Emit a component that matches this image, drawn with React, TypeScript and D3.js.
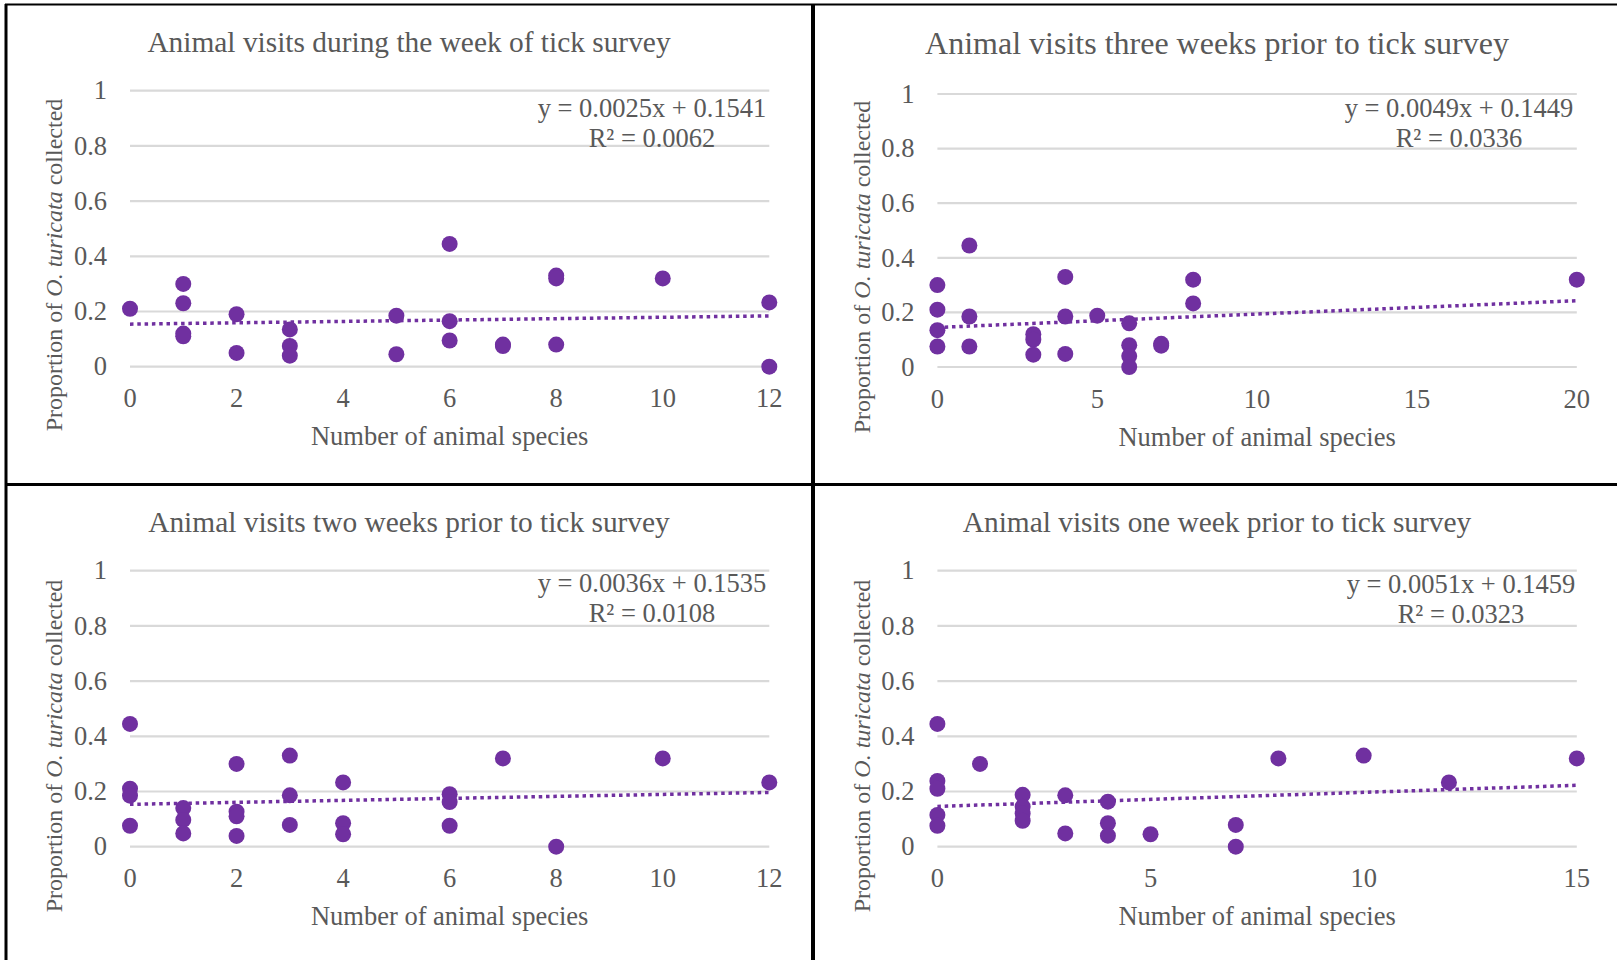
import React from "react";
import * as d3 from "d3";

// values
const weekOfX = [0, 1, 1, 1, 1, 2, 2, 3, 3, 3, 5, 5, 6, 6, 6, 7, 7, 8, 8, 8, 10, 12, 12];
const weekOfY = [0.21, 0.30, 0.23, 0.12, 0.11, 0.19, 0.05, 0.135, 0.075, 0.04, 0.185, 0.045, 0.445, 0.165, 0.095, 0.08, 0.075, 0.33, 0.32, 0.08, 0.32, 0.233, 0];

const threeWeeksX = [0, 0, 0, 0, 1, 1, 1, 3, 3, 3, 4, 4, 4, 5, 6, 6, 6, 6, 7, 7, 8, 8, 20];
const threeWeeksY = [0.30, 0.21, 0.135, 0.075, 0.445, 0.185, 0.075, 0.12, 0.10, 0.045, 0.33, 0.185, 0.048, 0.188, 0.16, 0.08, 0.04, 0, 0.085, 0.078, 0.32, 0.233, 0.32];

const twoWeeksX = [0, 0, 0, 0, 1, 1, 1, 2, 2, 2, 2, 3, 3, 3, 4, 4, 4, 6, 6, 6, 7, 8, 10, 12];
const twoWeeksY = [0.445, 0.21, 0.185, 0.076, 0.14, 0.097, 0.048, 0.30, 0.127, 0.11, 0.039, 0.33, 0.186, 0.079, 0.233, 0.085, 0.045, 0.19, 0.162, 0.076, 0.32, 0, 0.32, 0.233];

const oneWeekX = [0, 0, 0, 0, 0, 1, 2, 2, 2, 2, 3, 3, 4, 4, 4, 5, 7, 7, 8, 10, 12, 15];
const oneWeekY = [0.445, 0.238, 0.21, 0.115, 0.076, 0.30, 0.188, 0.145, 0.12, 0.094, 0.186, 0.048, 0.163, 0.085, 0.04, 0.045, 0.079, 0, 0.32, 0.33, 0.233, 0.32];

const titles = [
  "Animal visits during the week of tick survey",
  "Animal visits three weeks prior to tick survey",
  "Animal visits two weeks prior to tick survey",
  "Animal visits one week prior to tick survey",
];
const slopes = [0.0025, 0.0049, 0.0036, 0.0051];
const intercepts = [0.1541, 0.1449, 0.1535, 0.1459];
const rSquared = ["0.0062", "0.0336", "0.0108", "0.0323"];
const xMaxes = [12, 20, 12, 15];
const xTickSets = [
  [0, 2, 4, 6, 8, 10, 12],
  [0, 5, 10, 15, 20],
  [0, 2, 4, 6, 8, 10, 12],
  [0, 5, 10, 15],
];
const yTicks = [0, 0.2, 0.4, 0.6, 0.8, 1];

const PURPLE = "#7030A0";
const GRID = "#D9D9D9";
const TEXT = "#595959";
const FONT = "'Liberation Serif', 'Times New Roman', serif";

// panel layout, pixel frames
const layouts = [
  { x0: 130, x1: 769.3, yTop: 90.7, yBot: 366.7, titleX: 409, titleY: 52, titleSize: 29.4, yTitleX: 54, yTitleY: 265, eqX: 652, eqY: 117 },
  { x0: 937.4, x1: 1576.8, yTop: 94, yBot: 367, titleX: 1217, titleY: 54, titleSize: 32, yTitleX: 862, yTitleY: 267, eqX: 1459, eqY: 117 },
  { x0: 130, x1: 769.3, yTop: 570.7, yBot: 846.7, titleX: 409, titleY: 532, titleSize: 29.4, yTitleX: 54, yTitleY: 746, eqX: 652, eqY: 592 },
  { x0: 937.4, x1: 1576.8, yTop: 570.7, yBot: 846.7, titleX: 1217, titleY: 532, titleSize: 29.4, yTitleX: 862, yTitleY: 746, eqX: 1461, eqY: 593 },
];

const seriesX = [weekOfX, threeWeeksX, twoWeeksX, oneWeekX];
const seriesY = [weekOfY, threeWeeksY, twoWeeksY, oneWeekY];

function Panel({ i }: { i: number }) {
  const L = layouts[i];
  const x = d3.scaleLinear().domain([0, xMaxes[i]]).range([L.x0, L.x1]);
  const y = d3.scaleLinear().domain([0, 1]).range([L.yBot, L.yTop]);
  const fmt = d3.format("~g");
  const trend = d3
    .line<number>()
    .x((d) => x(d))
    .y((d) => y(slopes[i] * d + intercepts[i]));
  const xs = seriesX[i];
  const ys = seriesY[i];

  return (
    <g fontFamily={FONT} fill={TEXT}>
      <text x={L.titleX} y={L.titleY} textAnchor="middle" fontSize={L.titleSize}>
        {titles[i]}
      </text>
      {yTicks.map((t) => (
        <g key={t}>
          <line x1={L.x0} x2={L.x1} y1={y(t)} y2={y(t)} stroke={GRID} strokeWidth={2.2} />
          <text x={L.x0 - 23} y={y(t)} dy="0.33em" textAnchor="end" fontSize={26.5}>
            {fmt(t)}
          </text>
        </g>
      ))}
      {xTickSets[i].map((t) => (
        <text key={t} x={x(t)} y={L.yBot + 40.5} textAnchor="middle" fontSize={26.5}>
          {t}
        </text>
      ))}
      <text x={(L.x0 + L.x1) / 2} y={L.yBot + 78.5} textAnchor="middle" fontSize={26.5}>
        Number of animal species
      </text>
      <text
        transform={`translate(${L.yTitleX + 8},${L.yTitleY}) rotate(-90)`}
        textAnchor="middle"
        fontSize={24}
      >
        Proportion of <tspan fontStyle="italic">O. turicata</tspan> collected
      </text>
      <path
        d={trend([0, xMaxes[i]]) || ""}
        fill="none"
        stroke={PURPLE}
        strokeWidth={3.5}
        strokeDasharray="3.5 3.8"
      />
      {xs.map((v, k) => (
        <circle key={k} cx={x(v)} cy={y(ys[k])} r={8} fill={PURPLE} />
      ))}
      <text x={L.eqX} y={L.eqY} textAnchor="middle" fontSize={26.5}>
        {`y = ${slopes[i].toFixed(4)}x + ${intercepts[i].toFixed(4)}`}
      </text>
      <text x={L.eqX} y={L.eqY + 30} textAnchor="middle" fontSize={26.5}>
        {`R² = ${rSquared[i]}`}
      </text>
    </g>
  );
}

export default function App() {
  return (
    <div style={{ position: "absolute", left: 0, top: 0, width: 1617, height: 960, overflow: "hidden", background: "#fff" }}>
      <svg width={1617} height={960} style={{ display: "block" }}>
        <rect width={1617} height={960} fill="#fff" />
        {[0, 1, 2, 3].map((i) => (
          <Panel key={i} i={i} />
        ))}
        {/* panel frame */}
        <line x1={6} x2={6} y1={4} y2={960} stroke="#000" strokeWidth={3} />
        <line x1={5} x2={1617} y1={4.5} y2={4.5} stroke="#000" strokeWidth={2} />
        <line x1={813} x2={813} y1={4} y2={960} stroke="#000" strokeWidth={4} />
        <line x1={5} x2={1617} y1={484.5} y2={484.5} stroke="#000" strokeWidth={3} />
      </svg>
    </div>
  );
}
